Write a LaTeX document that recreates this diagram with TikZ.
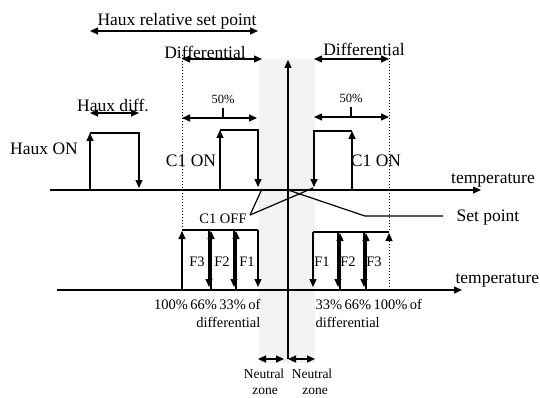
\documentclass[tikz,border=0pt]{standalone}
\usepackage{fontspec}
\setmainfont{Liberation Serif}
\usetikzlibrary{arrows.meta}
\begin{document}
\begin{tikzpicture}[x=1pt,y=-1pt,line width=1.2pt,
 tip/.style={-{Triangle[length=8pt,width=7pt]}},
 dtip/.style={{Triangle[length=8pt,width=7pt]}-{Triangle[length=8pt,width=7pt]}},
 big/.style={font=\fontsize{17.5}{19}\selectfont,inner sep=0pt,anchor=base},
 mid/.style={font=\fontsize{14.5}{17}\selectfont,inner sep=0pt,anchor=base},
 nz/.style={font=\fontsize{13.5}{15}\selectfont,inner sep=0pt,anchor=base},
 sml/.style={font=\fontsize{12.5}{14}\selectfont,inner sep=0pt,anchor=base},
 dots/.style={dotted,line width=1pt}]
\useasboundingbox (0,0) rectangle (540,398);
% neutral zones
\fill[gray!10] (259,59) rectangle (315,363);
% coordinates
\coordinate (axB) at (288,359);
\coordinate (axT) at (288,60);
\coordinate (t1L) at (50,190);
\coordinate (t1R) at (481,190);
\coordinate (t2L) at (57,290);
\coordinate (t2R) at (462,290);
% axes
\draw[tip] (axB) -- (axT);
\draw[tip] (t1L) -- (t1R);
\draw[tip] (t2L) -- (t2R);
\node[big] (temp1) at (493,183) {temperature};
\node[big,anchor=base west] (temp2) at (455,283) {temperature};
% top dimension
\coordinate (hrsL) at (90,31);
\coordinate (hrsR) at (258,31);
\draw[dtip] (hrsL) -- (hrsR);
\node[big] (hrs) at (177,26) {Haux relative set point};
% differentials
\coordinate (dLa) at (182,59); \coordinate (dLb) at (262,59);
\coordinate (dRa) at (314,59); \coordinate (dRb) at (389,59);
\draw[dtip] (dLa) -- (dLb);
\draw[dtip] (dRa) -- (dRb);
\node[big] (difL) at (205,59) {Differential};
\node[big] (difR) at (364,56) {Differential};
\draw[dots] (182,55) -- (182,230);
\draw[dots] (389,52) -- (389,232);
% Haux
\coordinate (hx1) at (90,190); \coordinate (hx2) at (90,133);
\coordinate (hx3) at (139,133); \coordinate (hx4) at (139,188);
\draw[tip] (hx1) -- (hx2);
\draw[tip] (hx2) -- (hx3) -- (hx4);
\draw[dtip] (90,113) -- (139,113);
\node[big] (hdiff) at (113,112) {Haux diff.};
\node[big] (hon) at (44,155) {Haux ON};
% left C1
\coordinate (c1a) at (220,190); \coordinate (c1b) at (220,130);
\coordinate (c1c) at (258,130); \coordinate (c1d) at (258,187);
\draw[tip] (c1a) -- (c1b);
\draw[tip] (c1b) -- (c1c) -- (c1d);
\node[big] (c1onL) at (191,167) {C1 ON};
\draw[dtip] (182,118) -- (257,118);
\draw (223,118) -- (223,108);
\node[sml] (p50L) at (223,104) {50\%};
% right C1
\coordinate (c2a) at (352,190); \coordinate (c2b) at (352,131);
\coordinate (c2c) at (314,131); \coordinate (c2d) at (314,187);
\draw[tip] (c2a) -- (c2b);
\draw[tip] (c2b) -- (c2c) -- (c2d);
\node[big] (c1onR) at (376,167) {C1 ON};
\draw[dtip] (314,117) -- (389,117);
\draw (351,117) -- (351,107);
\node[sml] (p50R) at (351,103) {50\%};
% C1 OFF and set point
\coordinate (off) at (250,215);
\node[mid] (c1off) at (223,223) {C1 OFF};
\draw (off) -- (262,189);
\draw (off) -- (313,188);
\coordinate (sp1) at (365,216); \coordinate (sp2) at (443,216);
\draw (288,190) -- (sp1) -- (sp2);
\node[big,anchor=base west] (sp) at (456,221) {Set point};
% left F steps
\draw[tip] (182,290) -- (182,231);
\draw (182,230) -- (258,230);
\draw[tip] (258,230) -- (258,287);
\draw[tip] (211,290) -- (211,231);
\draw[tip] (209,230) -- (209,287);
\draw[tip] (236,290) -- (236,231);
\draw[tip] (234,230) -- (234,287);
\node[mid] (f3L) at (197,266) {F3};
\node[mid] (f2L) at (222,266) {F2};
\node[mid] (f1L) at (247,266) {F1};
\node[mid,anchor=base east] (pctL) at (261,309) {100\%\,66\%\,33\%\,of};
\node[mid,anchor=base east] (difLb) at (261,327) {differential};
% right F steps
\draw (313,232) -- (389,232);
\draw[tip] (313,232) -- (313,287);
\draw[tip] (340,290) -- (340,233);
\draw[tip] (338,232) -- (338,287);
\draw[tip] (366,290) -- (366,233);
\draw[tip] (364,232) -- (364,287);
\draw[dots,tip] (389,290) -- (389,233);
\node[mid] (f1R) at (322,266) {F1};
\node[mid] (f2R) at (348,266) {F2};
\node[mid] (f3R) at (374,266) {F3};
\node[mid,anchor=base west] (pctR) at (315,309) {33\%\,66\%\,100\%\,of};
\node[mid,anchor=base west] (difRb) at (315,327) {differential};
% neutral zones
\draw[dtip] (258,359) -- (284,359);
\draw[dtip] (288,359) -- (315,359);
\node[nz] (nzL1) at (264,378) {Neutral};
\node[nz] (nzL2) at (265,394) {zone};
\node[nz] (nzR1) at (312,378) {Neutral};
\node[nz] (nzR2) at (315,394) {zone};
\end{tikzpicture}
\end{document}
